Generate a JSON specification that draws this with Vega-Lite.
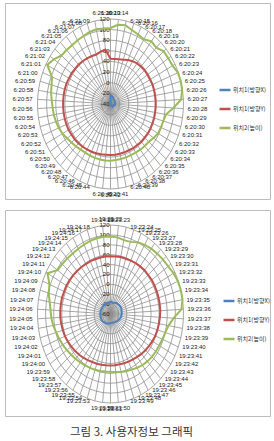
{
"$schema":"https://vega.github.io/schema/vega-lite/v6.json",
"background":"white",
"padding":{"left":4,"top":2,"right":0,"bottom":0},
"config":{"view":{"stroke":"#bdbdbd","strokeWidth":1},"concat":{"spacing":9},"text":{"font":"Liberation Sans","fontSize":6,"color":"#222"}},
"title":{"text":"그림 3. 사용자정보 그래픽","orient":"bottom","font":"Noto Sans CJK KR","fontSize":11.5,"fontWeight":"normal","color":"#333","offset":10,"anchor":"middle","dx":-6},
"datasets":{
"top":[
{"t":"6:20:13","X":-23,"Y":45,"H":103},{"t":"6:20:14","X":-24,"Y":45,"H":110},{"t":"6:20:15","X":-25,"Y":46,"H":112},{"t":"6:20:16","X":-26,"Y":48,"H":107},{"t":"6:20:17","X":-27,"Y":51,"H":104},{"t":"6:20:18","X":-28,"Y":54,"H":102},{"t":"6:20:19","X":-29,"Y":56,"H":108},{"t":"6:20:20","X":-29,"Y":57,"H":106},{"t":"6:20:21","X":-29,"Y":58,"H":113},{"t":"6:20:22","X":-29,"Y":58,"H":113},
{"t":"6:20:23","X":-29,"Y":58,"H":114},{"t":"6:20:24","X":-30,"Y":59,"H":119},{"t":"6:20:25","X":-30,"Y":59,"H":120},{"t":"6:20:26","X":-30,"Y":59,"H":119},{"t":"6:20:27","X":-30,"Y":59,"H":115},{"t":"6:20:28","X":-30,"Y":59,"H":98},{"t":"6:20:29","X":-30,"Y":59,"H":83},{"t":"6:20:30","X":-33,"Y":59,"H":80},{"t":"6:20:31","X":-33,"Y":59,"H":79},{"t":"6:20:32","X":-33,"Y":59,"H":78},
{"t":"6:20:33","X":-33,"Y":59,"H":74},{"t":"6:20:34","X":-33,"Y":58,"H":70},{"t":"6:20:35","X":-33,"Y":58,"H":69},{"t":"6:20:36","X":-37,"Y":57,"H":68},{"t":"6:20:37","X":-37,"Y":57,"H":67},{"t":"6:20:38","X":-37,"Y":56,"H":66},{"t":"6:20:39","X":-37,"Y":56,"H":66},{"t":"6:20:40","X":-37,"Y":56,"H":66},{"t":"6:20:41","X":-37,"Y":56,"H":66},{"t":"6:20:42","X":-37,"Y":56,"H":67},
{"t":"6:20:43","X":-40,"Y":56,"H":67},{"t":"6:20:44","X":-40,"Y":57,"H":67},{"t":"6:20:45","X":-40,"Y":58,"H":67},{"t":"6:20:46","X":-40,"Y":59,"H":67},{"t":"6:20:47","X":-40,"Y":60,"H":67},{"t":"6:20:48","X":-40,"Y":61,"H":68},{"t":"6:20:49","X":-40,"Y":62,"H":70},{"t":"6:20:50","X":-40,"Y":63,"H":72},{"t":"6:20:51","X":-40,"Y":63,"H":75},{"t":"6:20:52","X":-40,"Y":64,"H":79},
{"t":"6:20:53","X":-40,"Y":64,"H":82},{"t":"6:20:54","X":-40,"Y":64,"H":84},{"t":"6:20:55","X":-40,"Y":64,"H":86},{"t":"6:20:56","X":-40,"Y":64,"H":87},{"t":"6:20:57","X":-40,"Y":64,"H":89},{"t":"6:20:58","X":-40,"Y":64,"H":92},{"t":"6:20:59","X":-40,"Y":64,"H":94},{"t":"6:21:00","X":-40,"Y":64,"H":98},{"t":"6:21:01","X":-40,"Y":63,"H":117},{"t":"6:21:02","X":-40,"Y":63,"H":110},
{"t":"6:21:03","X":-40,"Y":62,"H":101},{"t":"6:21:04","X":-40,"Y":62,"H":100},{"t":"6:21:05","X":-40,"Y":61,"H":99},{"t":"6:21:06","X":-40,"Y":60,"H":100},{"t":"6:21:07","X":-40,"Y":59,"H":101},{"t":"6:21:08","X":-40,"Y":58,"H":103},{"t":"6:21:09","X":-40,"Y":61,"H":104},{"t":"6:21:10","X":-40,"Y":63,"H":103}
],
"bot":[
{"t":"19:23:22","X":-36,"Y":57,"H":97},{"t":"19:23:23","X":-35,"Y":57,"H":96},{"t":"19:23:24","X":-37,"Y":58,"H":93},{"t":"19:23:25","X":-36,"Y":58,"H":94},{"t":"19:23:26","X":-35,"Y":59,"H":100},{"t":"19:23:27","X":-34,"Y":60,"H":103},{"t":"19:23:28","X":-33,"Y":61,"H":106},{"t":"19:23:29","X":-33,"Y":62,"H":108},{"t":"19:23:30","X":-32,"Y":62,"H":110},{"t":"19:23:31","X":-32,"Y":63,"H":112},
{"t":"19:23:32","X":-31,"Y":63,"H":116},{"t":"19:23:33","X":-31,"Y":63,"H":119},{"t":"19:23:34","X":-32,"Y":63,"H":120},{"t":"19:23:35","X":-32,"Y":63,"H":120},{"t":"19:23:36","X":-32,"Y":63,"H":115},{"t":"19:23:37","X":-33,"Y":62,"H":96},{"t":"19:23:38","X":-33,"Y":61,"H":85},{"t":"19:23:39","X":-34,"Y":60,"H":80},{"t":"19:23:40","X":-35,"Y":59,"H":78},{"t":"19:23:41","X":-36,"Y":57,"H":76},
{"t":"19:23:42","X":-37,"Y":55,"H":75},{"t":"19:23:43","X":-38,"Y":53,"H":74},{"t":"19:23:44","X":-39,"Y":51,"H":72},{"t":"19:23:45","X":-40,"Y":49,"H":70},{"t":"19:23:46","X":-41,"Y":47,"H":67},{"t":"19:23:47","X":-41,"Y":46,"H":64},{"t":"19:23:48","X":-42,"Y":45,"H":62},{"t":"19:23:49","X":-42,"Y":44,"H":60},{"t":"19:23:50","X":-42,"Y":44,"H":58},{"t":"19:23:51","X":-42,"Y":44,"H":57},
{"t":"19:23:52","X":-41,"Y":44,"H":57},{"t":"19:23:53","X":-41,"Y":45,"H":58},{"t":"19:23:54","X":-40,"Y":46,"H":59},{"t":"19:23:55","X":-39,"Y":47,"H":60},{"t":"19:23:56","X":-38,"Y":49,"H":61},{"t":"19:23:57","X":-38,"Y":51,"H":63},{"t":"19:23:58","X":-37,"Y":53,"H":65},{"t":"19:23:59","X":-36,"Y":55,"H":67},{"t":"19:24:00","X":-35,"Y":57,"H":70},{"t":"19:24:01","X":-35,"Y":59,"H":73},
{"t":"19:24:02","X":-35,"Y":61,"H":76},{"t":"19:24:03","X":-35,"Y":62,"H":79},{"t":"19:24:04","X":-35,"Y":63,"H":83},{"t":"19:24:05","X":-35,"Y":64,"H":86},{"t":"19:24:06","X":-35,"Y":64,"H":88},{"t":"19:24:07","X":-35,"Y":64,"H":92},{"t":"19:24:08","X":-35,"Y":64,"H":98},{"t":"19:24:09","X":-35,"Y":63,"H":102},{"t":"19:24:10","X":-36,"Y":63,"H":116},{"t":"19:24:11","X":-36,"Y":62,"H":98},
{"t":"19:24:12","X":-36,"Y":61,"H":96},{"t":"19:24:13","X":-36,"Y":60,"H":95},{"t":"19:24:14","X":-37,"Y":59,"H":94},{"t":"19:24:15","X":-37,"Y":58,"H":94},{"t":"19:24:16","X":-36,"Y":58,"H":95},{"t":"19:24:17","X":-36,"Y":57,"H":96},{"t":"19:24:18","X":-36,"Y":57,"H":97},{"t":"19:24:19","X":-36,"Y":57,"H":97}
],
"ringsT":[{"lv":-40,"k":0,"z":0},{"lv":-20,"k":0,"z":0},{"lv":0,"k":0,"z":0},{"lv":20,"k":0,"z":0},{"lv":40,"k":0,"z":0},{"lv":60,"k":0,"z":0},{"lv":80,"k":0,"z":0},{"lv":100,"k":0,"z":0},{"lv":120,"k":0,"z":0}],
"ringsB":[{"lv":-60,"k":0,"z":0},{"lv":-40,"k":0,"z":0},{"lv":-20,"k":0,"z":0},{"lv":0,"k":0,"z":0},{"lv":20,"k":0,"z":0},{"lv":40,"k":0,"z":0},{"lv":60,"k":0,"z":0},{"lv":80,"k":0,"z":0},{"lv":100,"k":0,"z":0},{"lv":120,"k":0,"z":0}]
},
"resolve":{"scale":{"x":"independent","y":"independent","color":"independent"},"legend":{"color":"independent"}},
"vconcat":[
{"width":265,"height":196,
"layer":[
{"data":{"name":"ringsT"},
"transform":[{"impute":"z","key":"k","keyvals":[0,1,2,3,4,5,6,7,8,9,10,11,12,13,14,15,16,17,18,19,20,21,22,23,24,25,26,27,28,29,30,31,32,33,34,35,36,37,38,39,40,41,42,43,44,45,46,47,48,49,50,51,52,53,54,55,56,57],"groupby":["lv"],"value":0},
{"calculate":"datum.k*2*PI/58","as":"a"},{"calculate":"(datum.lv+40)/160","as":"r"},{"calculate":"datum.r*sin(datum.a)","as":"px"},{"calculate":"datum.r*cos(datum.a)","as":"py"}],
"mark":{"type":"line","interpolate":"linear-closed","stroke":"#8f8f8f","strokeWidth":0.8},
"encoding":{"x":{"field":"px","type":"quantitative","scale":{"domain":[-1.445,2.185],"nice":false,"zero":false},"axis":null},
"y":{"field":"py","type":"quantitative","scale":{"domain":[-1.118,1.188],"nice":false,"zero":false},"axis":null},
"detail":{"field":"lv"},"order":{"field":"k"}}},
{"data":{"name":"top"},
"transform":[{"window":[{"op":"row_number","as":"n"}]},{"calculate":"(datum.n-1)*2*PI/58","as":"a"},{"calculate":"0","as":"o"},{"calculate":"sin(datum.a)","as":"sx"},{"calculate":"cos(datum.a)","as":"cy"}],
"mark":{"type":"rule","stroke":"#8f8f8f","strokeWidth":0.8},
"encoding":{"x":{"field":"o","type":"quantitative"},"y":{"field":"o","type":"quantitative"},"x2":{"field":"sx"},"y2":{"field":"cy"}}},
{"data":{"name":"top"},
"transform":[{"window":[{"op":"row_number","as":"n"}]},{"calculate":"(datum.n-1)*2*PI/58","as":"a"},{"calculate":"sin(datum.a)","as":"sx"},{"calculate":"cos(datum.a)","as":"cy"},{"filter":"datum.sx > 0.2"}],
"mark":{"type":"text","align":"left","baseline":"middle","dx":4},
"encoding":{"x":{"field":"sx","type":"quantitative"},"y":{"field":"cy","type":"quantitative"},"text":{"field":"t"}}},
{"data":{"name":"top"},
"transform":[{"window":[{"op":"row_number","as":"n"}]},{"calculate":"(datum.n-1)*2*PI/58","as":"a"},{"calculate":"sin(datum.a)","as":"sx"},{"calculate":"cos(datum.a)","as":"cy"},{"filter":"datum.sx < -0.2"}],
"mark":{"type":"text","align":"right","baseline":"middle","dx":-5},
"encoding":{"x":{"field":"sx","type":"quantitative"},"y":{"field":"cy","type":"quantitative"},"text":{"field":"t"}}},
{"data":{"name":"top"},
"transform":[{"window":[{"op":"row_number","as":"n"}]},{"calculate":"(datum.n-1)*2*PI/58","as":"a"},{"calculate":"sin(datum.a)","as":"sx"},{"calculate":"cos(datum.a)","as":"cy"},{"filter":"abs(datum.sx) <= 0.2 && datum.cy > 0"}],
"mark":{"type":"text","align":"center","baseline":"bottom","dy":-3},
"encoding":{"x":{"field":"sx","type":"quantitative"},"y":{"field":"cy","type":"quantitative"},"text":{"field":"t"}}},
{"data":{"name":"top"},
"transform":[{"window":[{"op":"row_number","as":"n"}]},{"calculate":"(datum.n-1)*2*PI/58","as":"a"},{"calculate":"sin(datum.a)","as":"sx"},{"calculate":"cos(datum.a)","as":"cy"},{"filter":"abs(datum.sx) <= 0.2 && datum.cy < 0"}],
"mark":{"type":"text","align":"center","baseline":"top","dy":3},
"encoding":{"x":{"field":"sx","type":"quantitative"},"y":{"field":"cy","type":"quantitative"},"text":{"field":"t"}}},
{"data":{"name":"ringsT"},
"transform":[{"calculate":"0","as":"o"},{"calculate":"(datum.lv+40)/160","as":"r"}],
"mark":{"type":"text","align":"right","baseline":"middle","dx":-1},
"encoding":{"x":{"field":"o","type":"quantitative"},"y":{"field":"r","type":"quantitative"},"text":{"field":"lv"}}},
{"data":{"name":"top"},
"transform":[{"window":[{"op":"row_number","as":"n"}]},{"calculate":"(datum.n-1)*2*PI/58","as":"a"},{"fold":["X","Y","H"],"as":["s","v"]},{"calculate":"(datum.v+40)/160","as":"r"},{"calculate":"datum.r*sin(datum.a)","as":"px"},{"calculate":"datum.r*cos(datum.a)","as":"py"}],
"mark":{"type":"line","interpolate":"linear-closed","strokeWidth":2},
"encoding":{"x":{"field":"px","type":"quantitative"},"y":{"field":"py","type":"quantitative"},"order":{"field":"n"},
"color":{"field":"s","type":"nominal","scale":{"domain":["X","Y","H"],"range":["#4f81bd","#c0504d","#9bbb59"]},
"legend":{"orient":"none","legendX":213,"legendY":80,"title":null,"symbolType":"stroke","symbolStrokeWidth":2.5,"symbolSize":120,"labelFontSize":6,"labelFont":"Noto Sans CJK KR","labelColor":"#333","rowPadding":7,"labelOffset":1,
"labelExpr":"datum.label == 'X' ? '위치1(방향X)' : datum.label == 'Y' ? '위치1(방향Y)' : '위치2(높이)'"}}}}
]},
{"width":265,"height":206,
"layer":[
{"data":{"name":"ringsB"},
"transform":[{"impute":"z","key":"k","keyvals":[0,1,2,3,4,5,6,7,8,9,10,11,12,13,14,15,16,17,18,19,20,21,22,23,24,25,26,27,28,29,30,31,32,33,34,35,36,37,38,39,40,41,42,43,44,45,46,47,48,49,50,51,52,53,54,55,56,57],"groupby":["lv"],"value":0},
{"calculate":"datum.k*2*PI/58","as":"a"},{"calculate":"(datum.lv+60)/180","as":"r"},{"calculate":"datum.r*sin(datum.a)","as":"px"},{"calculate":"datum.r*cos(datum.a)","as":"py"}],
"mark":{"type":"line","interpolate":"linear-closed","stroke":"#8f8f8f","strokeWidth":0.8},
"encoding":{"x":{"field":"px","type":"quantitative","scale":{"domain":[-1.445,2.185],"nice":false,"zero":false},"axis":null},
"y":{"field":"py","type":"quantitative","scale":{"domain":[-1.146,1.169],"nice":false,"zero":false},"axis":null},
"detail":{"field":"lv"},"order":{"field":"k"}}},
{"data":{"name":"bot"},
"transform":[{"window":[{"op":"row_number","as":"n"}]},{"calculate":"(datum.n-1)*2*PI/58","as":"a"},{"calculate":"0","as":"o"},{"calculate":"sin(datum.a)","as":"sx"},{"calculate":"cos(datum.a)","as":"cy"}],
"mark":{"type":"rule","stroke":"#8f8f8f","strokeWidth":0.8},
"encoding":{"x":{"field":"o","type":"quantitative"},"y":{"field":"o","type":"quantitative"},"x2":{"field":"sx"},"y2":{"field":"cy"}}},
{"data":{"name":"bot"},
"transform":[{"window":[{"op":"row_number","as":"n"}]},{"calculate":"(datum.n-1)*2*PI/58","as":"a"},{"calculate":"sin(datum.a)","as":"sx"},{"calculate":"cos(datum.a)","as":"cy"},{"filter":"datum.sx > 0.2"}],
"mark":{"type":"text","align":"left","baseline":"middle","dx":4},
"encoding":{"x":{"field":"sx","type":"quantitative"},"y":{"field":"cy","type":"quantitative"},"text":{"field":"t"}}},
{"data":{"name":"bot"},
"transform":[{"window":[{"op":"row_number","as":"n"}]},{"calculate":"(datum.n-1)*2*PI/58","as":"a"},{"calculate":"sin(datum.a)","as":"sx"},{"calculate":"cos(datum.a)","as":"cy"},{"filter":"datum.sx < -0.2"}],
"mark":{"type":"text","align":"right","baseline":"middle","dx":-5},
"encoding":{"x":{"field":"sx","type":"quantitative"},"y":{"field":"cy","type":"quantitative"},"text":{"field":"t"}}},
{"data":{"name":"bot"},
"transform":[{"window":[{"op":"row_number","as":"n"}]},{"calculate":"(datum.n-1)*2*PI/58","as":"a"},{"calculate":"sin(datum.a)","as":"sx"},{"calculate":"cos(datum.a)","as":"cy"},{"filter":"abs(datum.sx) <= 0.2 && datum.cy > 0"}],
"mark":{"type":"text","align":"center","baseline":"bottom","dy":-3},
"encoding":{"x":{"field":"sx","type":"quantitative"},"y":{"field":"cy","type":"quantitative"},"text":{"field":"t"}}},
{"data":{"name":"bot"},
"transform":[{"window":[{"op":"row_number","as":"n"}]},{"calculate":"(datum.n-1)*2*PI/58","as":"a"},{"calculate":"sin(datum.a)","as":"sx"},{"calculate":"cos(datum.a)","as":"cy"},{"filter":"abs(datum.sx) <= 0.2 && datum.cy < 0"}],
"mark":{"type":"text","align":"center","baseline":"top","dy":3},
"encoding":{"x":{"field":"sx","type":"quantitative"},"y":{"field":"cy","type":"quantitative"},"text":{"field":"t"}}},
{"data":{"name":"ringsB"},
"transform":[{"calculate":"0","as":"o"},{"calculate":"(datum.lv+60)/180","as":"r"}],
"mark":{"type":"text","align":"right","baseline":"middle","dx":-1},
"encoding":{"x":{"field":"o","type":"quantitative"},"y":{"field":"r","type":"quantitative"},"text":{"field":"lv"}}},
{"data":{"name":"bot"},
"transform":[{"window":[{"op":"row_number","as":"n"}]},{"calculate":"(datum.n-1)*2*PI/58","as":"a"},{"fold":["X","Y","H"],"as":["s","v"]},{"calculate":"(datum.v+60)/180","as":"r"},{"calculate":"datum.r*sin(datum.a)","as":"px"},{"calculate":"datum.r*cos(datum.a)","as":"py"}],
"mark":{"type":"line","interpolate":"linear-closed","strokeWidth":2},
"encoding":{"x":{"field":"px","type":"quantitative"},"y":{"field":"py","type":"quantitative"},"order":{"field":"n"},
"color":{"field":"s","type":"nominal","scale":{"domain":["X","Y","H"],"range":["#4f81bd","#c0504d","#9bbb59"]},
"legend":{"orient":"none","legendX":217,"legendY":84,"title":null,"symbolType":"stroke","symbolStrokeWidth":2.5,"symbolSize":120,"labelFontSize":6,"labelFont":"Noto Sans CJK KR","labelColor":"#333","rowPadding":7,"labelOffset":1,
"labelExpr":"datum.label == 'X' ? '위치1(방향X)' : datum.label == 'Y' ? '위치1(방향Y)' : '위치2(높이)'"}}}}
]}
]
}
